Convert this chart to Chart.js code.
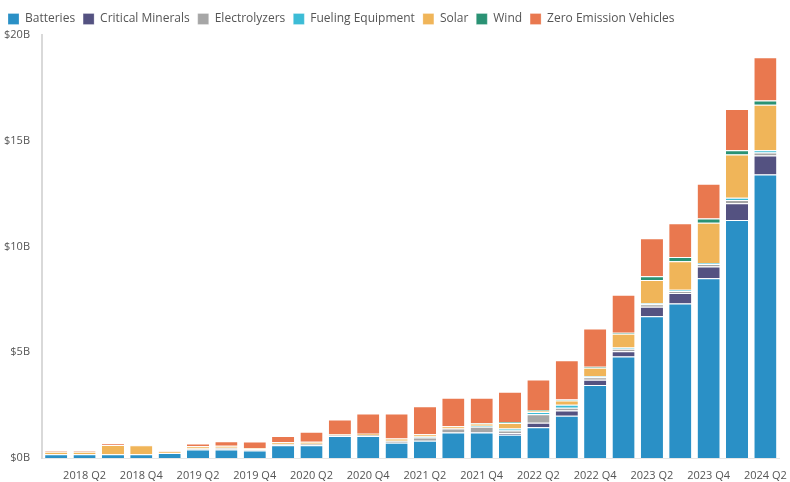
<!DOCTYPE html>
<html>
<head>
<meta charset="utf-8">
<script src="https://cdn.jsdelivr.net/npm/chart.js@4/dist/chart.umd.min.js"></script>
<style>
  body { margin: 0; background: #fff; }
  #wrap { width: 790px; height: 482px; }
</style>
</head>
<body>
<div id="wrap"><canvas id="investChart" width="790" height="482"></canvas></div>
<script>
// Quarterly investment, billions of dollars
const quarters = ['2018 Q1', '2018 Q2', '2018 Q3', '2018 Q4', '2019 Q1', '2019 Q2', '2019 Q3', '2019 Q4',
    '2020 Q1', '2020 Q2', '2020 Q3', '2020 Q4', '2021 Q1', '2021 Q2', '2021 Q3', '2021 Q4',
    '2022 Q1', '2022 Q2', '2022 Q3', '2022 Q4', '2023 Q1', '2023 Q2', '2023 Q3', '2023 Q4',
    '2024 Q1', '2024 Q2'];

const batteries = [0.18, 0.18, 0.18, 0.18, 0.24, 0.4, 0.4, 0.35, 0.6, 0.6, 1.04, 1.04, 0.72, 0.82, 1.2, 1.2,
    1.1, 1.45, 2.0, 3.45, 4.8, 6.7, 7.3, 8.5, 11.25, 13.4];
const criticalMinerals = [0, 0, 0, 0, 0, 0, 0, 0, 0, 0, 0, 0, 0, 0, 0, 0.03,
    0.08, 0.22, 0.25, 0.25, 0.25, 0.45, 0.5, 0.55, 0.8, 0.9];
const electrolyzers = [0, 0, 0, 0, 0, 0.05, 0.08, 0.06, 0.05, 0.07, 0.04, 0.05, 0.1, 0.15, 0.2, 0.25,
    0.12, 0.4, 0.12, 0.12, 0.12, 0.12, 0.1, 0.12, 0.15, 0.15];
const fuelingEquipment = [0, 0, 0, 0, 0, 0, 0, 0, 0, 0, 0, 0, 0, 0.05, 0, 0.05,
    0.1, 0.1, 0.15, 0.05, 0.05, 0.05, 0.05, 0.05, 0.1, 0.1];
const solar = [0.12, 0.12, 0.44, 0.42, 0.06, 0.1, 0.1, 0.06, 0.1, 0.1, 0.04, 0.06, 0.1, 0.1, 0.1, 0.1,
    0.25, 0.05, 0.2, 0.4, 0.65, 1.1, 1.35, 1.9, 2.05, 2.15];
const wind = [0, 0, 0, 0, 0, 0, 0, 0, 0, 0, 0, 0, 0, 0, 0, 0.02,
    0.05, 0.04, 0.05, 0.05, 0.05, 0.17, 0.2, 0.2, 0.2, 0.2];
const zeroEmission = [0.04, 0.04, 0.05, 0.02, 0.02, 0.13, 0.21, 0.31, 0.29, 0.47, 0.7, 0.95, 1.18, 1.33, 1.35, 1.2,
    1.43, 1.45, 1.85, 1.8, 1.8, 1.8, 1.6, 1.65, 1.95, 2.05];

const yTicks = [0, 5, 10, 15, 20];

const seriesNames = ['Batteries', 'Critical Minerals', 'Electrolyzers', 'Fueling Equipment', 'Solar', 'Wind', 'Zero Emission Vehicles'];
const seriesData = [batteries, criticalMinerals, electrolyzers, fuelingEquipment, solar, wind, zeroEmission];
const seriesColors = ['#2a90c6', '#545281', '#a6a6a6', '#3cbcd6', '#f0b559', '#2a9274', '#e9784f'];

const datasets = seriesNames.map((name, i) => ({
    label: name,
    data: seriesData[i],
    backgroundColor: seriesColors[i],
    borderColor: '#ffffff',
    borderWidth: { top: 1, left: 0, right: 0, bottom: 0 },
    borderSkipped: false,
    barPercentage: 0.78,
    categoryPercentage: 1.0
}));

const ctx = document.getElementById('investChart').getContext('2d');
const investChart = new Chart(ctx, {
    type: 'bar',
    data: { labels: quarters, datasets: datasets },
    options: {
        responsive: false,
        animation: false,
        layout: { padding: { left: 0, right: 10, top: 5, bottom: 0 } },
        plugins: {
            tooltip: { enabled: false },
            legend: {
                position: 'top',
                align: 'start',
                labels: {
                    boxWidth: 11,
                    boxHeight: 11,
                    padding: 8,
                    color: '#555',
                    font: { family: 'Open Sans', size: 12 }
                }
            }
        },
        scales: {
            x: {
                stacked: true,
                grid: { display: false },
                border: { display: true, color: '#e6e6e6' },
                ticks: {
                    autoSkip: false,
                    maxRotation: 0,
                    color: '#555',
                    font: { family: 'Open Sans', size: 11 },
                    callback: function (val, idx) {
                        return idx % 2 === 1 ? quarters[idx] : '';
                    }
                },
                afterFit: (s) => { s.height = 24; }
            },
            y: {
                stacked: true,
                min: 0,
                max: 20,
                afterBuildTicks: (s) => { s.ticks = yTicks.map(v => ({ value: v })); },
                grid: { display: false },
                border: { display: true, color: '#d9d9d9', width: 2 },
                ticks: {
                    color: '#555',
                    padding: 4,
                    font: { family: 'Open Sans', size: 11 },
                    callback: (v) => '$' + v + 'B'
                },
                afterFit: (s) => { s.width = 42; }
            }
        }
    }
});
</script>
</body>
</html>
